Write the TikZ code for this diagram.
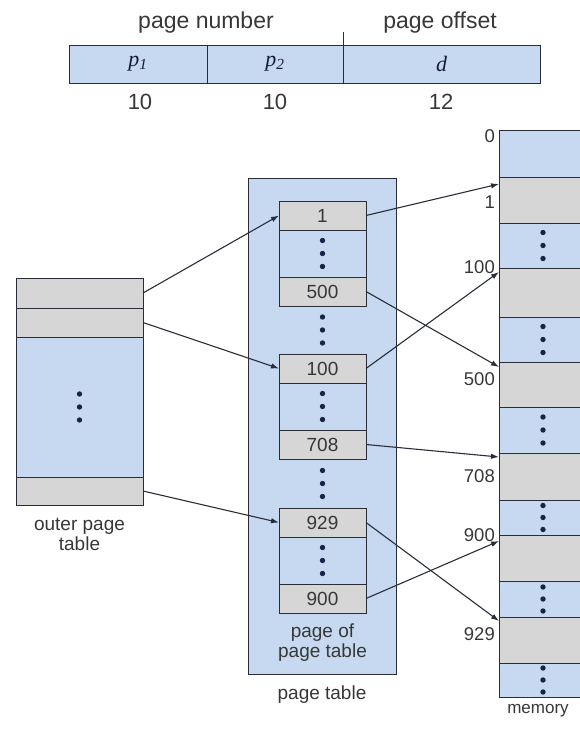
\documentclass[tikz,border=0pt]{standalone}
\usepackage{fontspec}
\setmainfont{Liberation Sans}
\newfontfamily\italfont{Liberation Serif}
\usepackage{tikz}
\usetikzlibrary{arrows.meta,positioning,calc}
\usepackage{xcolor}
\definecolor{tblblue}{RGB}{198,217,240}
\definecolor{tblgray}{RGB}{214,214,214}
\definecolor{tblline}{RGB}{40,45,55}
\definecolor{dotblue}{RGB}{25,35,70}
\definecolor{txtgray}{RGB}{55,55,55}

\tikzset{
  cell/.style={draw=tblline, line width=1pt, inner sep=0pt, outer sep=0pt, minimum width=#1},
  entry/.style={cell=87, fill=tblgray, minimum height=29, font=\fontsize{19}{20}\selectfont, text=txtgray},
  gap/.style={cell=87, fill=tblblue, minimum height=47},
  lbl/.style={inner sep=0pt, font=\fontsize{19}{20}\selectfont, text=txtgray, align=center},
  field/.style={cell=#1, fill=tblblue, minimum height=38, font=\fontsize{22}{24}\selectfont\italfont\itshape, text=dotblue!80!black},
  ptr/.style={->, draw=tblline, line width=1.1pt},
}
\newcommand{\threedots}[2][13]{\foreach \k in {-#1,0,#1} \fill[dotblue] ([yshift=\k pt]#2) circle (2.7pt);}

\begin{document}
\begin{tikzpicture}[>={Latex[length=8pt,width=5.5pt]},x=1pt,y=-1pt]
\useasboundingbox (0,0) rectangle (580,731);
\clip (0,0) rectangle (580,731);

% logical address
\node[field=138] (f1) at (138,64) {p\textsubscript{1}};
\node[field=136, right=0pt of f1] (f2) {p\textsubscript{2}};
\node[field=197, right=0pt of f2] (f3) {d};
\draw[draw=tblline, line width=1pt] (f3.north west) -- ([yshift=13pt]f3.north west);
\node[lbl, font=\fontsize{23}{24}\selectfont] (pn) at (206,23) {page number};
\node[lbl, font=\fontsize{23}{24}\selectfont] (po) at (440,23) {page offset};
\node[lbl, font=\fontsize{22}{24}\selectfont] (n1) at (140,102) {10};
\node[lbl, font=\fontsize{22}{24}\selectfont] (n2) at (275,102) {10};
\node[lbl, font=\fontsize{22}{24}\selectfont] (n3) at (441,102) {12};

% outer page table
\node[cell=127, fill=tblgray, minimum height=30] (ot1) at (79.5,293) {};
\node[cell=127, fill=tblgray, minimum height=29, below=0pt of ot1] (ot2) {};
\node[cell=127, fill=tblblue, minimum height=140, below=0pt of ot2] (ot3) {};
\node[cell=127, fill=tblgray, minimum height=28, below=0pt of ot3] (ot4) {};
\threedots{ot3.center}
\node[lbl, below=13pt of ot4] (otl) {outer page\\table};

% page table
\node[cell=148, fill=tblblue, minimum height=496] (pt) at (322,426) {};
\node[entry] (e1) at (322.5,215.5) {1};
\node[gap, below=0pt of e1] (d1) {};
\node[entry, below=0pt of d1] (e500) {500};
\node[entry] (e100) at (322.5,368.5) {100};
\node[gap, below=0pt of e100] (d2) {};
\node[entry, below=0pt of d2] (e708) {708};
\node[entry] (e929) at (322.5,522.5) {929};
\node[gap, below=0pt of e929] (d3) {};
\node[entry, below=0pt of d3] (e900) {900};
\foreach \g in {d1,d2,d3} {\threedots{\g.center}}
\threedots{$(e500.south)!0.5!(e100.north)$}
\threedots{$(e708.south)!0.5!(e929.north)$}
\node[lbl, below=11pt of e900] (ppl) {page of\\page table};
\node[lbl, below=12pt of pt] (ptl) {page table};

% memory
\foreach \nm/\a/\b/\fc in {m0/130/177/tblblue, m1/177/223/tblgray, m2/223/268/tblblue,
    m3/268/317/tblgray, m4/317/362/tblblue, m5/362/407/tblgray, m6/407/453/tblblue,
    m7/453/500/tblgray, m8/500/535/tblblue, m9/535/581/tblgray, m10/581/617/tblblue,
    m11/617/663/tblgray, m12/663/697/tblblue}
  \node[cell=88, fill=\fc, minimum height={\b-\a}] (\nm) at (543,{(\a+\b)/2}) {};
\foreach \r in {m2,m4,m6} {\threedots{\r.center}}
\foreach \r in {m8,m10,m12} {\threedots[12]{\r.center}}
\foreach \v/\y in {0/136, 1/202, 100/267, 500/379, 708/476, 900/535, 929/634}
  \node[lbl, font=\fontsize{18.5}{20}\selectfont, anchor=east] (a\v) at (495,\y) {\v};
\node[lbl, font=\fontsize{17}{20}\selectfont] (ml) at (538,711) {memory};

% pointers
\draw[ptr] (ot1.east) -- (e1.west);
\draw[ptr] (ot2.east) -- (e100.west);
\draw[ptr] (ot4.east) -- (e929.west);
\draw[ptr] (e1.east) -- ([yshift=-7pt]m1.north west);
\draw[ptr] (e500.east) -- ([yshift=-5pt]m5.north west);
\draw[ptr] (e100.east) -- ([yshift=-4pt]m3.north west);
\draw[ptr] (e708.east) -- ([yshift=-4pt]m7.north west);
\draw[ptr] (e929.east) -- ([yshift=-4pt]m11.north west);
\draw[ptr] (e900.east) -- ([yshift=-6pt]m9.north west);
\end{tikzpicture}
\end{document}
